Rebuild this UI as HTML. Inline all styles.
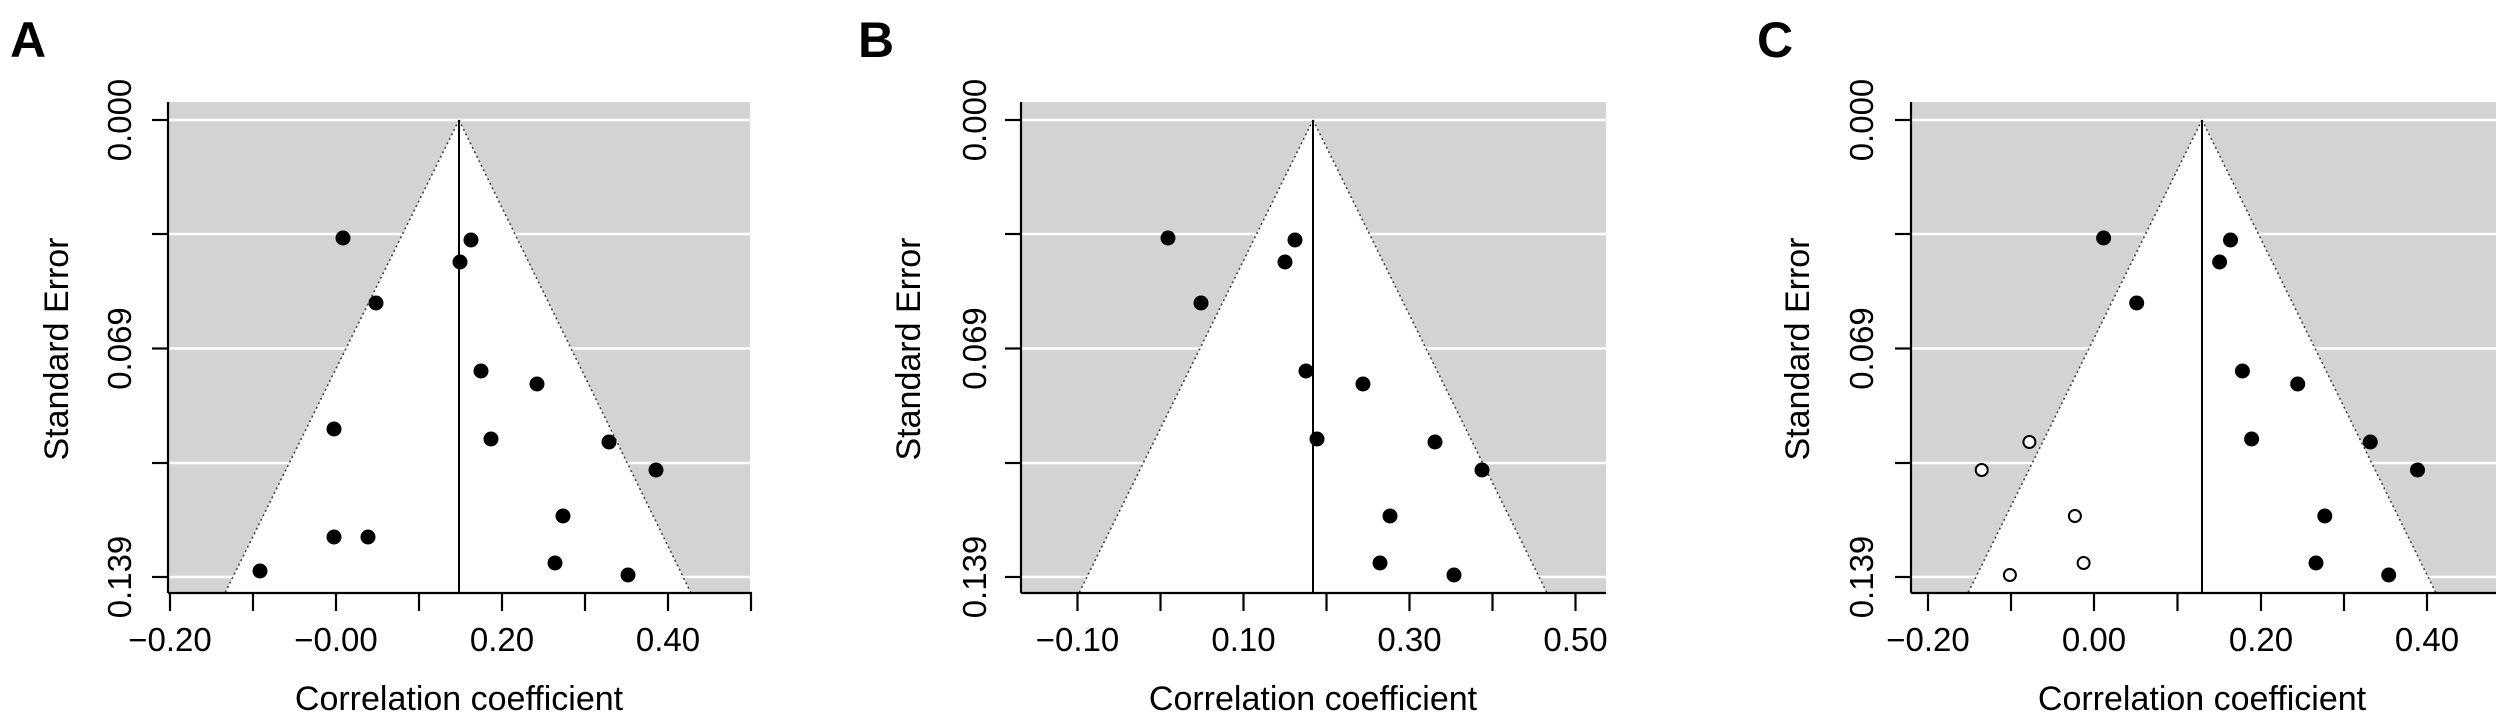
<!DOCTYPE html>
<html><head><meta charset="utf-8"><style>
html,body{margin:0;padding:0;background:#fff;}
svg{display:block;font-family:"Liberation Sans",Arial,sans-serif;}
</style></head><body>
<svg width="2500" height="717" viewBox="0 0 2500 717" xmlns="http://www.w3.org/2000/svg">

<!-- Panel A -->
<g>
<rect x="169" y="102" width="581" height="491" fill="#d3d3d3"/>
<g stroke="#fff" stroke-width="2.5">
<line x1="169" x2="750" y1="120" y2="120"/><line x1="169" x2="750" y1="234" y2="234"/>
<line x1="169" x2="750" y1="348.5" y2="348.5"/><line x1="169" x2="750" y1="463" y2="463"/><line x1="169" x2="750" y1="577" y2="577"/>
</g>
<polygon points="459,120 225,593 691,593" fill="#fff"/>
<g stroke="#444" stroke-width="1.6" stroke-dasharray="2,3" fill="none"><line x1="459" y1="120" x2="225" y2="593"/><line x1="459" y1="120" x2="691" y2="593"/></g>
<line x1="459" y1="120" x2="459" y2="593" stroke="#000" stroke-width="2"/>
<g stroke="#000" stroke-width="2.2" fill="none">
<line x1="168" y1="102" x2="168" y2="593"/><line x1="168" y1="593" x2="752" y2="593"/>
<line x1="152" x2="168" y1="120" y2="120"/><line x1="152" x2="168" y1="234" y2="234"/><line x1="152" x2="168" y1="348.5" y2="348.5"/><line x1="152" x2="168" y1="463" y2="463"/><line x1="152" x2="168" y1="577" y2="577"/>
<line x1="170" x2="170" y1="593" y2="611"/><line x1="253" x2="253" y1="593" y2="611"/><line x1="336" x2="336" y1="593" y2="611"/><line x1="419" x2="419" y1="593" y2="611"/><line x1="502" x2="502" y1="593" y2="611"/><line x1="585" x2="585" y1="593" y2="611"/><line x1="668" x2="668" y1="593" y2="611"/><line x1="751" x2="751" y1="593" y2="611"/>
</g>
<g fill="#000">
<circle cx="343" cy="238" r="7.5"/><circle cx="471" cy="240" r="7.5"/><circle cx="460" cy="262" r="7.5"/><circle cx="376" cy="303" r="7.5"/>
<circle cx="481" cy="371" r="7.5"/><circle cx="537" cy="384" r="7.5"/><circle cx="334" cy="429" r="7.5"/><circle cx="491" cy="439" r="7.5"/>
<circle cx="609" cy="442" r="7.5"/><circle cx="656" cy="470" r="7.5"/><circle cx="563" cy="516" r="7.5"/><circle cx="334" cy="537" r="7.5"/>
<circle cx="368" cy="537" r="7.5"/><circle cx="260" cy="571" r="7.5"/><circle cx="555" cy="563" r="7.5"/><circle cx="628" cy="575" r="7.5"/>
</g>
<g font-size="33" text-anchor="middle">
<text x="170" y="651">−0.20</text><text x="336" y="651">−0.00</text><text x="502" y="651">0.20</text><text x="668" y="651">0.40</text>
<text x="459" y="710" font-size="34">Correlation coefficient</text>
<text transform="translate(131,120) rotate(-90)">0.000</text>
<text transform="translate(131,348.5) rotate(-90)">0.069</text>
<text transform="translate(131,577) rotate(-90)">0.139</text>
<text transform="translate(68,349) rotate(-90)" font-size="34">Standard Error</text>
</g>
<text x="10" y="57" font-size="50" font-weight="bold">A</text>
</g>

<!-- Panel B -->
<g>
<rect x="1021" y="102" width="585" height="491" fill="#d3d3d3"/>
<g stroke="#fff" stroke-width="2.5">
<line x1="1021" x2="1606" y1="120" y2="120"/><line x1="1021" x2="1606" y1="234" y2="234"/>
<line x1="1021" x2="1606" y1="348.5" y2="348.5"/><line x1="1021" x2="1606" y1="463" y2="463"/><line x1="1021" x2="1606" y1="577" y2="577"/>
</g>
<polygon points="1313,120 1079,593 1547,593" fill="#fff"/>
<g stroke="#444" stroke-width="1.6" stroke-dasharray="2,3" fill="none"><line x1="1313" y1="120" x2="1079" y2="593"/><line x1="1313" y1="120" x2="1547" y2="593"/></g>
<line x1="1313" y1="120" x2="1313" y2="593" stroke="#000" stroke-width="2"/>
<g stroke="#000" stroke-width="2.2" fill="none">
<line x1="1021" y1="102" x2="1021" y2="593"/><line x1="1021" y1="593" x2="1606" y2="593"/>
<line x1="1005" x2="1021" y1="120" y2="120"/><line x1="1005" x2="1021" y1="234" y2="234"/><line x1="1005" x2="1021" y1="348.5" y2="348.5"/><line x1="1005" x2="1021" y1="463" y2="463"/><line x1="1005" x2="1021" y1="577" y2="577"/>
<line x1="1077.5" x2="1077.5" y1="593" y2="611"/><line x1="1160.5" x2="1160.5" y1="593" y2="611"/><line x1="1243.5" x2="1243.5" y1="593" y2="611"/><line x1="1326.5" x2="1326.5" y1="593" y2="611"/><line x1="1409.5" x2="1409.5" y1="593" y2="611"/><line x1="1492.5" x2="1492.5" y1="593" y2="611"/><line x1="1575.5" x2="1575.5" y1="593" y2="611"/>
</g>
<g fill="#000">
<circle cx="1168" cy="238" r="7.5"/><circle cx="1295" cy="240" r="7.5"/><circle cx="1285" cy="262" r="7.5"/><circle cx="1201" cy="303" r="7.5"/>
<circle cx="1306" cy="371" r="7.5"/><circle cx="1363" cy="384" r="7.5"/><circle cx="1317" cy="439" r="7.5"/><circle cx="1435" cy="442" r="7.5"/>
<circle cx="1482" cy="470" r="7.5"/><circle cx="1390" cy="516" r="7.5"/><circle cx="1380" cy="563" r="7.5"/><circle cx="1454" cy="575" r="7.5"/>
</g>
<g font-size="33" text-anchor="middle">
<text x="1077.5" y="651">−0.10</text><text x="1243.5" y="651">0.10</text><text x="1409.5" y="651">0.30</text><text x="1575.5" y="651">0.50</text>
<text x="1313" y="710" font-size="34">Correlation coefficient</text>
<text transform="translate(986,120) rotate(-90)">0.000</text>
<text transform="translate(986,348.5) rotate(-90)">0.069</text>
<text transform="translate(986,577) rotate(-90)">0.139</text>
<text transform="translate(920,349) rotate(-90)" font-size="34">Standard Error</text>
</g>
<text x="858" y="57" font-size="50" font-weight="bold">B</text>
</g>

<!-- Panel C -->
<g>
<rect x="1911" y="102" width="585" height="491" fill="#d3d3d3"/>
<g stroke="#fff" stroke-width="2.5">
<line x1="1911" x2="2496" y1="120" y2="120"/><line x1="1911" x2="2496" y1="234" y2="234"/>
<line x1="1911" x2="2496" y1="348.5" y2="348.5"/><line x1="1911" x2="2496" y1="463" y2="463"/><line x1="1911" x2="2496" y1="577" y2="577"/>
</g>
<polygon points="2202,120 1968,593 2436,593" fill="#fff"/>
<g stroke="#444" stroke-width="1.6" stroke-dasharray="2,3" fill="none"><line x1="2202" y1="120" x2="1968" y2="593"/><line x1="2202" y1="120" x2="2436" y2="593"/></g>
<line x1="2202" y1="120" x2="2202" y2="593" stroke="#000" stroke-width="2"/>
<g stroke="#000" stroke-width="2.2" fill="none">
<line x1="1911" y1="102" x2="1911" y2="593"/><line x1="1911" y1="593" x2="2496" y2="593"/>
<line x1="1895" x2="1911" y1="120" y2="120"/><line x1="1895" x2="1911" y1="234" y2="234"/><line x1="1895" x2="1911" y1="348.5" y2="348.5"/><line x1="1895" x2="1911" y1="463" y2="463"/><line x1="1895" x2="1911" y1="577" y2="577"/>
<line x1="1928" x2="1928" y1="593" y2="611"/><line x1="2011" x2="2011" y1="593" y2="611"/><line x1="2094" x2="2094" y1="593" y2="611"/><line x1="2177.5" x2="2177.5" y1="593" y2="611"/><line x1="2261" x2="2261" y1="593" y2="611"/><line x1="2344" x2="2344" y1="593" y2="611"/><line x1="2427" x2="2427" y1="593" y2="611"/>
</g>
<g fill="#000">
<circle cx="2103.6" cy="238" r="7.5"/><circle cx="2230.5" cy="240" r="7.5"/><circle cx="2219.6" cy="262" r="7.5"/><circle cx="2136.7" cy="303" r="7.5"/>
<circle cx="2242.4" cy="371" r="7.5"/><circle cx="2297.7" cy="384" r="7.5"/><circle cx="2251.6" cy="439" r="7.5"/><circle cx="2370.3" cy="442" r="7.5"/>
<circle cx="2417.5" cy="470" r="7.5"/><circle cx="2324.8" cy="516" r="7.5"/><circle cx="2316" cy="563" r="7.5"/><circle cx="2388.7" cy="575" r="7.5"/>
</g>
<g fill="#fff" stroke="#000" stroke-width="2">
<circle cx="2029.4" cy="442" r="6"/><circle cx="1981.7" cy="470" r="6"/><circle cx="2074.9" cy="516" r="6"/><circle cx="2083.6" cy="563" r="6"/><circle cx="2009.9" cy="575" r="6"/>
</g>
<g font-size="33" text-anchor="middle">
<text x="1928" y="651">−0.20</text><text x="2094" y="651">0.00</text><text x="2261" y="651">0.20</text><text x="2427" y="651">0.40</text>
<text x="2202" y="710" font-size="34">Correlation coefficient</text>
<text transform="translate(1873,120) rotate(-90)">0.000</text>
<text transform="translate(1873,348.5) rotate(-90)">0.069</text>
<text transform="translate(1873,577) rotate(-90)">0.139</text>
<text transform="translate(1809,349) rotate(-90)" font-size="34">Standard Error</text>
</g>
<text x="1757" y="57" font-size="50" font-weight="bold">C</text>
</g>
</svg>
</body></html>
